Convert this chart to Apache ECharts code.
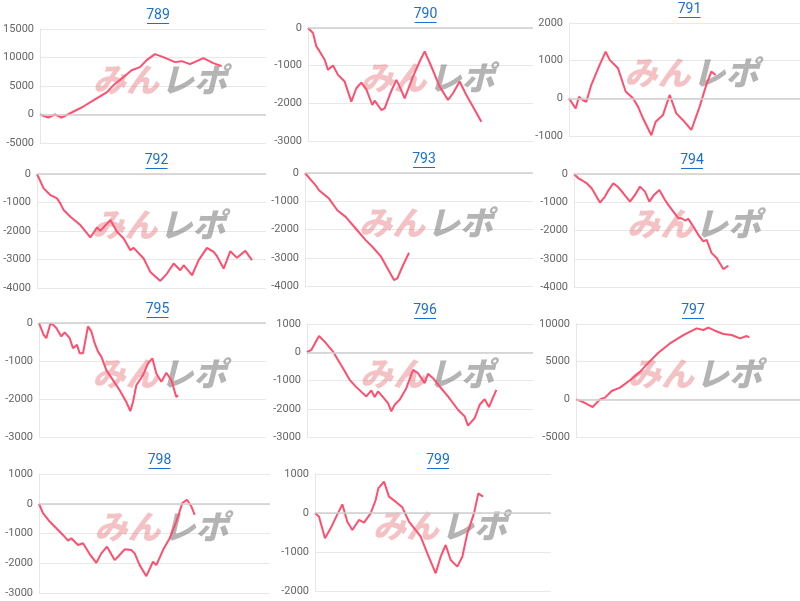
<!DOCTYPE html>
<html>
<head>
<meta charset="utf-8">
<script src="https://cdn.jsdelivr.net/npm/echarts@6/dist/echarts.min.js"></script>
<style>
  html, body { margin: 0; padding: 0; background: #fff; }
  #main { width: 800px; height: 601px; }
</style>
</head>
<body>
<div id="main"></div>
<script>
// machine numbers
const names = ["789", "790", "791", "792", "793", "794", "795", "796", "797", "798", "799"];

// each series: x = progress step, y = difference in medals
const x789 = [0, 25, 45, 65, 95, 130, 170, 200, 220, 250, 275, 300, 320, 345, 370, 405, 425, 450, 490, 520, 545];
const y789 = [0, -530, 0, -530, 350, 1400, 2830, 3890, 5120, 6540, 7770, 8310, 9540, 10600, 10070, 9190, 9360, 8830, 9890, 9010, 8480];
const x790 = [0, 15, 25, 35, 50, 60, 75, 90, 110, 130, 145, 160, 175, 193, 200, 220, 230, 247, 265, 275, 290, 315, 335, 350, 370, 395, 420, 435, 455, 475, 495, 520];
const y790 = [0, -133, -489, -622, -844, -1111, -996, -1244, -1422, -1956, -1600, -1449, -1627, -2044, -1929, -2178, -2133, -1733, -1378, -1556, -1867, -1289, -889, -622, -1022, -1556, -1911, -1733, -1422, -1778, -2089, -2489];
const x791 = [0, 20, 30, 42, 52, 67, 92, 110, 122, 147, 170, 192, 207, 222, 247, 260, 282, 302, 322, 342, 367, 392, 412, 427, 440];
const y791 = [0, -270, 40, -50, -90, 360, 890, 1240, 1020, 800, 180, 0, -220, -530, -980, -620, -440, 90, -400, -580, -840, -220, 360, 710, 620];
const x792 = [0, 20, 40, 50, 60, 70, 80, 100, 130, 160, 180, 190, 220, 240, 260, 280, 290, 320, 340, 370, 390, 410, 430, 440, 465, 485, 510, 530, 540, 560, 580, 600, 625, 645];
const y792 = [0, -504, -739, -797, -856, -1032, -1266, -1500, -1793, -2227, -1876, -1993, -1618, -2028, -2263, -2673, -2591, -2966, -3435, -3751, -3493, -3141, -3376, -3200, -3552, -3024, -2591, -2731, -2884, -3317, -2708, -2942, -2696, -3024];
const x793 = [0, 17, 32, 42, 72, 97, 122, 152, 182, 202, 227, 242, 267, 277, 292, 312];
const y793 = [0, -235, -435, -612, -906, -1318, -1553, -1965, -2376, -2612, -2941, -3259, -3788, -3729, -3318, -2824];
const x794 = [0, 13, 23, 38, 53, 78, 93, 103, 118, 133, 148, 168, 183, 198, 213, 226, 240, 256, 273, 283, 298, 313, 323, 333, 343, 358, 373, 388, 398, 413, 428, 448, 463];
const y794 = [0, -153, -212, -329, -506, -1012, -800, -588, -329, -471, -682, -976, -741, -447, -624, -976, -741, -565, -918, -1094, -1329, -1565, -1565, -1647, -1588, -1859, -2153, -2388, -2329, -2800, -2976, -3365, -3247];
const x795 = [0, 14, 22, 34, 42, 52, 67, 77, 92, 102, 114, 122, 132, 147, 157, 167, 177, 187, 202, 222, 242, 262, 274, 282, 292, 312, 327, 340, 352, 367, 382, 397, 412, 417];
const y795 = [0, -310, -398, -18, -44, -133, -354, -248, -398, -664, -575, -796, -796, -88, -221, -531, -752, -885, -1239, -1504, -1770, -2080, -2319, -2080, -1637, -1372, -1062, -929, -1327, -1549, -1310, -1504, -1947, -1903];
const x796 = [0, 13, 36, 53, 78, 93, 108, 128, 148, 178, 193, 203, 213, 228, 243, 253, 263, 278, 298, 318, 333, 353, 363, 378, 398, 423, 453, 473, 483, 503, 518, 533, 546, 556, 568];
const y796 = [0, 82, 576, 376, 24, -271, -565, -976, -1235, -1565, -1353, -1588, -1388, -1588, -1800, -2094, -1859, -1682, -1271, -624, -741, -1094, -765, -918, -1212, -1565, -2035, -2271, -2600, -2329, -1859, -1659, -1941, -1659, -1329];
const x797 = [0, 22, 50, 72, 87, 107, 132, 162, 192, 217, 247, 282, 322, 362, 382, 397, 417, 442, 467, 492, 512, 520];
const y797 = [0, -356, -1022, 0, 222, 1111, 1556, 2533, 3644, 4844, 6178, 7422, 8533, 9422, 9200, 9511, 9111, 8667, 8533, 8089, 8400, 8222];
const x798 = [0, 12, 32, 52, 72, 87, 97, 117, 132, 152, 172, 187, 204, 227, 237, 257, 277, 287, 302, 322, 342, 352, 372, 392, 412, 430, 444, 457, 467];
const y798 = [0, -316, -598, -823, -1049, -1240, -1161, -1387, -1330, -1691, -1984, -1668, -1443, -1894, -1781, -1533, -1556, -1668, -2063, -2435, -1950, -2063, -1556, -1161, -598, 23, 135, -90, -372];
const x799 = [0, 12, 30, 47, 67, 82, 97, 112, 132, 147, 167, 182, 190, 207, 222, 242, 262, 282, 302, 317, 337, 362, 377, 392, 407, 427, 442, 457, 477, 490, 504];
const y799 = [0, -94, -650, -393, -34, 222, -222, -436, -179, -248, -9, 333, 632, 803, 419, 291, 145, -222, -436, -607, -1034, -1547, -1120, -821, -1205, -1376, -1120, -521, -9, 504, 419];

const xs = [x789, x790, x791, x792, x793, x794, x795, x796, x797, x798, x799];
const ys = [y789, y790, y791, y792, y793, y794, y795, y796, y797, y798, y799];

// y axis ranges [min, max, interval]
const yRanges = [
  [-5000, 15000, 5000], [-3000, 0, 1000], [-1000, 2000, 1000],
  [-4000, 0, 1000], [-4000, 0, 1000], [-4000, 0, 1000],
  [-3000, 0, 1000], [-3000, 1000, 1000], [-5000, 10000, 5000],
  [-3000, 1000, 1000], [-2000, 1000, 1000]
];

// plot boxes [left, top, right, bottom] in page px
const boxes = [
  [40, 29, 266, 143], [308, 28, 533, 141], [569, 23, 800, 136],
  [37, 174, 266, 288], [305, 173, 533, 286], [574, 174, 800, 287],
  [39, 323, 266, 437], [307, 324, 533, 437], [576, 324, 800, 437],
  [39, 474, 270, 593], [315, 474, 551, 591]
];

const wmFont = "italic 900 33px 'Noto Sans CJK JP'";
const grid = [], xAxis = [], yAxis = [], series = [], graphic = [];
boxes.forEach((b, i) => {
  const [l, t, r, bt] = b;
  grid.push({ left: l, top: t, width: r - l, height: bt - t });
  xAxis.push({
    type: "value", gridIndex: i, min: 0, max: (r - l) * 3,
    axisLine: { show: false }, axisTick: { show: false }, axisLabel: { show: false },
    splitLine: { show: false }
  });
  yAxis.push({
    type: "value", gridIndex: i,
    min: yRanges[i][0], max: yRanges[i][1], interval: yRanges[i][2],
    axisLine: { show: true, onZero: false, lineStyle: { color: "#e6e6e6" } },
    axisTick: { show: false },
    axisLabel: { color: "#666", fontSize: 11, fontFamily: "Roboto, Arial, sans-serif", margin: 6, formatter: (v) => String(v) },
    splitLine: { lineStyle: { color: "#e8e8e8" } }
  });
  series.push({
    type: "line", xAxisIndex: i, yAxisIndex: i,
    data: xs[i].map((x, k) => [x, ys[i][k]]),
    showSymbol: false, silent: true,
    lineStyle: { color: "#ff4f6e", width: 2 }
  });
  // zero baseline
  series.push({
    type: "line", xAxisIndex: i, yAxisIndex: i, data: [], silent: true,
    markLine: {
      symbol: "none", silent: true, label: { show: false },
      lineStyle: { color: "#cfcfcf", type: "solid", width: 1.5 },
      data: [{ yAxis: 0 }]
    }
  });
  const cx = (l + r) / 2 + 6;
  const cy = t + (bt - t) * 0.44;
  graphic.push({
    type: "text", x: cx, y: cy, z: 1,
    style: { text: "みん", font: wmFont, fill: "rgba(225,95,100,0.38)", align: "right", verticalAlign: "middle" }
  });
  graphic.push({
    type: "text", x: cx + 2, y: cy, z: 1,
    style: { text: "レポ", font: wmFont, fill: "rgba(105,105,105,0.5)", align: "left", verticalAlign: "middle" }
  });
  const tx = (l + r) / 2 + 5;
  graphic.push({
    type: "text", x: tx, y: t - 14,
    style: { text: names[i], font: "14px Roboto, Arial, sans-serif", fill: "#1a6fd0", align: "center", verticalAlign: "middle" }
  });
  graphic.push({
    type: "rect", x: tx - 11, y: t - 6,
    shape: { width: 22, height: 1 }, style: { fill: "#1a6fd0" }
  });
});

const chart = echarts.init(document.getElementById("main"));
chart.setOption({ animation: false, grid, xAxis, yAxis, series, graphic });
</script>
</body>
</html>
